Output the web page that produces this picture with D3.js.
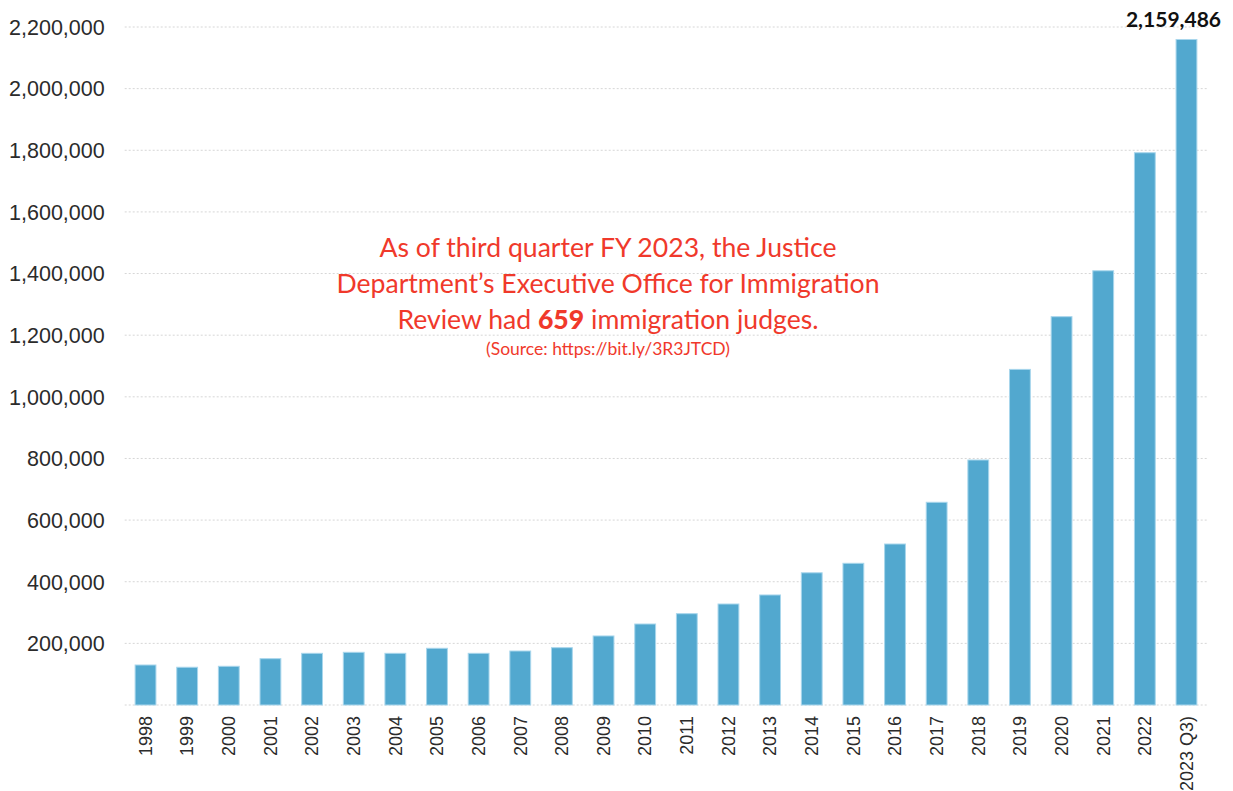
<!DOCTYPE html>
<html>
<head>
<meta charset="utf-8">
<script src="https://cdn.jsdelivr.net/npm/d3@7"></script>
<style>
  html, body { margin: 0; padding: 0; background: #fff; }
  svg { display: block; }
</style>
</head>
<body>
<svg id="chart" width="1233" height="791"></svg>
<script>
const categories = ["1998","1999","2000","2001","2002","2003","2004","2005","2006","2007","2008","2009","2010","2011","2012","2013","2014","2015","2016","2017","2018","2019","2020","2021","2022","2023 Q3)"];
const pendingCases = [129800, 122500, 125600, 150300, 167700, 171000, 167700, 184000, 167700, 175200, 186000, 224000, 262800, 296300, 327700, 357000, 429000, 459800, 522400, 657800, 795000, 1089000, 1260000, 1409000, 1792000, 2159486];
const yTicks = [0, 200000, 400000, 600000, 800000, 1000000, 1200000, 1400000, 1600000, 1800000, 2000000, 2200000];
const annotationLines = [
  ["As of third quarter FY 2023, the Justice"],
  ["Department\u2019s Executive Office for Immigration"],
  ["Review had ", "659", " immigration judges."]
];
const sourceText = "(Source: https://bit.ly/3R3JTCD)";
const highlightLabel = "2,159,486";

(function () {
const svg = d3.select("#chart");
const mLeft = 124.7, mRight = 1207.3, mTop = 27, mBottom = 705;

const x = d3.scaleBand().domain(categories).range([mLeft, mRight]).paddingInner(0.5).paddingOuter(0.25);
const y = d3.scaleLinear().domain([0, 2200000]).range([mBottom, mTop]);

// gridlines
svg.append("g").selectAll("line").data(yTicks).join("line")
  .attr("x1", mLeft).attr("x2", mRight)
  .attr("y1", d => y(d)).attr("y2", d => y(d))
  .attr("stroke", "#d6d6d6").attr("stroke-width", 1)
  .attr("stroke-dasharray", "2,2");

// y axis
const yAxis = svg.append("g").attr("transform", `translate(${mLeft},0)`)
  .call(d3.axisLeft(y).tickValues(yTicks.filter(d => d > 0)).tickSize(0).tickPadding(20).tickFormat(d3.format(",")));
yAxis.select(".domain").remove();
yAxis.selectAll("text").attr("font-family", "'Liberation Sans', Arial, sans-serif").attr("font-size", 21.5).attr("fill", "#2b2b2b").attr("dy", "0.34em");

// bars
svg.append("g").selectAll("rect").data(categories).join("rect")
  .attr("x", d => x(d)).attr("width", x.bandwidth())
  .attr("y", (d, i) => y(pendingCases[i]))
  .attr("height", (d, i) => y(0) - y(pendingCases[i]))
  .attr("fill", "#52a8cf").attr("stroke", "#a8d6ec").attr("stroke-width", 1);

// x axis labels
const xAxis = svg.append("g").attr("transform", `translate(0,${mBottom})`)
  .call(d3.axisBottom(x).tickSize(0).tickPadding(0));
xAxis.select(".domain").remove();
xAxis.selectAll("text")
  .attr("font-family", "'Liberation Sans', Arial, sans-serif").attr("font-size", 18).attr("fill", "#2b2b2b")
  .attr("text-anchor", "end")
  .attr("transform", "rotate(-90)")
  .attr("x", -11).attr("y", 0).attr("dy", "0.35em");

// highlight label
const last = categories[categories.length - 1];
svg.append("text")
  .attr("x", x(last) + x.bandwidth() / 2 - 13)
  .attr("y", y(pendingCases[pendingCases.length - 1]) - 12)
  .attr("text-anchor", "middle")
  .attr("font-family", "Lato, sans-serif").attr("font-weight", "bold").attr("font-size", 21)
  .attr("fill", "#111").text(highlightLabel);

// annotation
const ann = svg.append("g").attr("font-family", "Lato, sans-serif").attr("fill", "#f0392b").attr("text-anchor", "middle");
const baselines = [257, 293, 329];
annotationLines.forEach((parts, i) => {
  const t = ann.append("text").attr("x", 608).attr("y", baselines[i]).attr("font-size", 26.6);
  parts.forEach((p, j) => {
    t.append("tspan").attr("font-weight", (parts.length === 3 && j === 1) ? "900" : "normal").text(p);
  });
});
ann.append("text").attr("x", 608).attr("y", 355).attr("font-size", 17.5).text(sourceText);
})();
</script>
</body>
</html>
